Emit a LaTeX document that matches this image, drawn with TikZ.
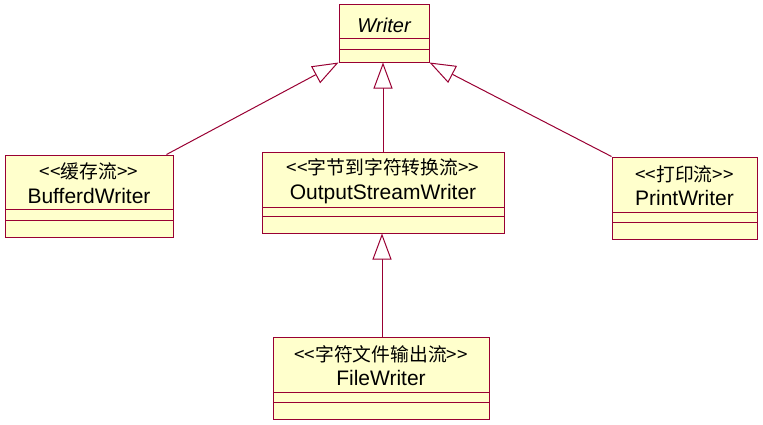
\documentclass[tikz,border=0pt]{standalone}
\usepackage{fontspec}
\setmainfont{Liberation Sans}
\newfontfamily\cjk{Noto Sans CJK SC}
\usetikzlibrary{arrows.meta}
\definecolor{lc}{RGB}{153,0,51}
\definecolor{fc}{RGB}{255,255,204}
\tikzset{
  classbox/.style={draw=lc, fill=fc, line width=1pt, inner sep=0pt, rectangle},
  sep/.style={draw=lc, line width=1pt},
  cname/.style={inner sep=0pt, anchor=base, font=\fontsize{21}{23}\selectfont},
  stereo/.style={inner sep=0pt, anchor=center, font=\cjk\fontsize{18.8}{20}\selectfont},
  inh/.style={draw=lc, line width=1pt, -{Triangle[open, length=26pt, width=19pt, fill=white]}}
}
\begin{document}
\begin{tikzpicture}[x=1pt, y=-1pt]
\useasboundingbox (0,0) rectangle (763,424);
% Writer
\node[classbox, minimum width=90pt, minimum height=58pt] (wri) at (384,33) {};
\draw[sep] (339,38) -- (429,38);
\draw[sep] (339,49) -- (429,49);
\node[cname, font=\fontsize{20}{22}\selectfont\itshape] (wriN) at (384,32) {Writer};
% BufferdWriter
\node[classbox, minimum width=168pt, minimum height=82pt] (buf) at (89,196) {};
\draw[sep] (5,209) -- (173,209);
\draw[sep] (5,220) -- (173,220);
\node[stereo] (bufS) at (89,171.5) {<<缓存流>>};
\node[cname] (bufN) at (89,203) {BufferdWriter};
% OutputStreamWriter
\node[classbox, minimum width=242pt, minimum height=81pt] (osw) at (383,192.5) {};
\draw[sep] (262,207) -- (504,207);
\draw[sep] (262,216) -- (504,216);
\node[stereo] (oswS) at (383,167) {<<字节到字符转换流>>};
\node[cname] (oswN) at (383,199) {OutputStreamWriter};
% PrintWriter
\node[classbox, minimum width=145pt, minimum height=82pt] (prt) at (684.5,198) {};
\draw[sep] (612,212) -- (757,212);
\draw[sep] (612,222) -- (757,222);
\node[stereo] (prtS) at (684.5,174) {<<打印流>>};
\node[cname] (prtN) at (684.5,205) {PrintWriter};
% FileWriter
\node[classbox, minimum width=216pt, minimum height=82pt] (fw) at (381,378) {};
\draw[sep] (273,392) -- (489,392);
\draw[sep] (273,402) -- (489,402);
\node[stereo] (fwS) at (381,354) {<<字符文件输出流>>};
\node[cname] (fwN) at (381,385) {FileWriter};
% connectors
\coordinate (bufC) at ([xshift=-7pt]buf.north east);
\coordinate (wriB) at (wri.south -| osw.north);
\coordinate (fwC) at (fw.north -| 382,0);
\coordinate (oswB) at (osw.south -| 382,0);
\draw[inh] (bufC) -- (wri.south west);
\draw[inh] (prt.north west) -- (wri.south east);
\draw[inh] (osw.north) -- (wriB);
\draw[inh] (fwC) -- (oswB);
\end{tikzpicture}
\end{document}
